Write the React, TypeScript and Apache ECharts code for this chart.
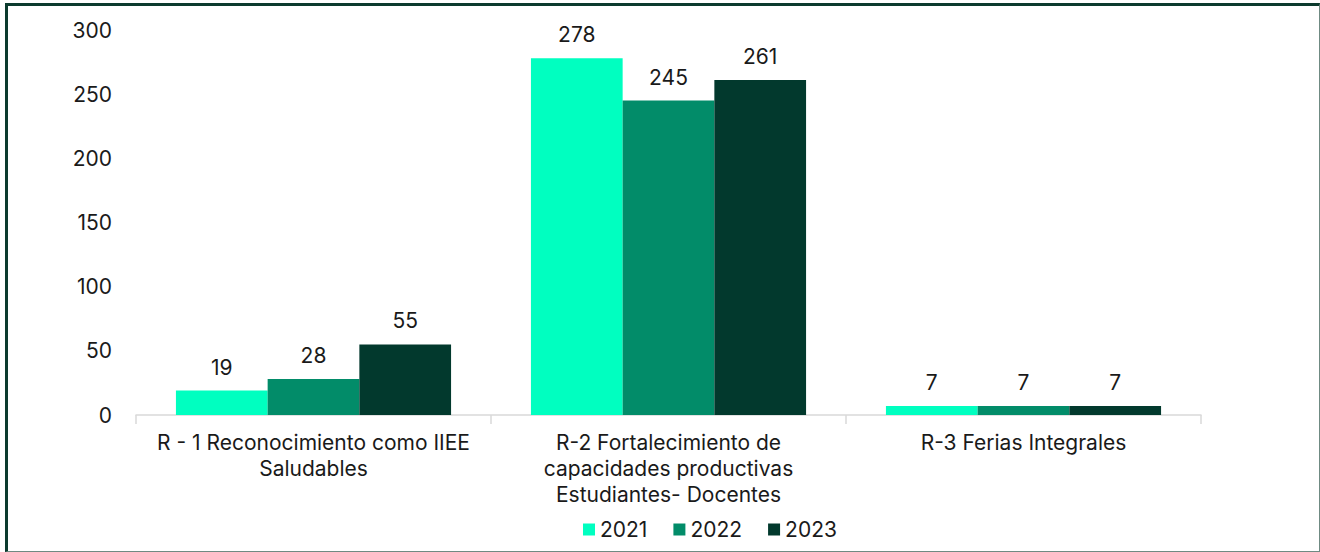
import React, { useEffect, useRef } from "react";
import * as echarts from "echarts";

const categories = [
  "R - 1 Reconocimiento como IIEE\nSaludables",
  "R-2 Fortalecimiento de\ncapacidades productivas\nEstudiantes- Docentes",
  "R-3 Ferias Integrales",
];
const seriesNames = ["2021", "2022", "2023"];
const values2021 = [19, 278, 7];
const values2022 = [28, 245, 7];
const values2023 = [55, 261, 7];
const colors = ["#00FFC0", "#028C69", "#02392D"];

export default function App() {
  const ref = useRef<HTMLDivElement>(null);
  useEffect(() => {
    if (!ref.current) return;
    const chart = echarts.init(ref.current, undefined, { renderer: "svg" });
    const font = "Inter, 'Noto Sans', sans-serif";
    const data = [values2021, values2022, values2023];
    chart.setOption({
      animation: false,
      textStyle: { fontFamily: font },
      grid: { left: 136, right: 119, top: 30, bottom: 137, containLabel: false },
      legend: {
        top: 514,
        left: 578,
        itemWidth: 12,
        itemHeight: 12,
        itemGap: 26,
        icon: "rect",
        textStyle: { fontSize: 21, color: "#1a1a1a", fontFamily: font },
        data: seriesNames,
      },
      xAxis: {
        type: "category",
        data: categories,
        axisLine: { lineStyle: { color: "#d9d9d9", width: 1.5 } },
        axisTick: { show: true, length: 9, lineStyle: { color: "#d9d9d9", width: 1.5 } },
        axisLabel: { interval: 0, fontSize: 21, color: "#1a1a1a", lineHeight: 26, margin: 14, fontFamily: font },
      },
      yAxis: {
        type: "value",
        min: 0,
        max: 300,
        interval: 50,
        splitLine: { show: false },
        axisLine: { show: false },
        axisTick: { show: false },
        axisLabel: { fontSize: 21, color: "#1a1a1a", margin: 24, fontFamily: font },
      },
      series: seriesNames.map((name, i) => ({
        name,
        type: "bar",
        data: data[i],
        barGap: "0%",
        barCategoryGap: "22.5%",
        itemStyle: { color: colors[i] },
        label: {
          show: true,
          position: "top",
          distance: 13,
          fontSize: 21,
          color: "#1a1a1a",
          fontFamily: font,
        },
      })),
    });
    return () => chart.dispose();
  }, []);
  return (
    <div
      style={{
        position: "fixed",
        left: 5,
        top: 3,
        width: 1315,
        height: 549,
        background: "#fff",
        boxSizing: "border-box",
        borderLeft: "3px solid #0c3b2e",
        borderTop: "3px solid #0c3b2e",
        borderRight: "1px solid #6f8a82",
        borderBottom: "1px solid #6f8a82",
        overflow: "visible",
      }}
    >
      <div ref={ref} style={{ position: "absolute", left: -8, top: -6, width: 1320, height: 552 }} />
    </div>
  );
}
